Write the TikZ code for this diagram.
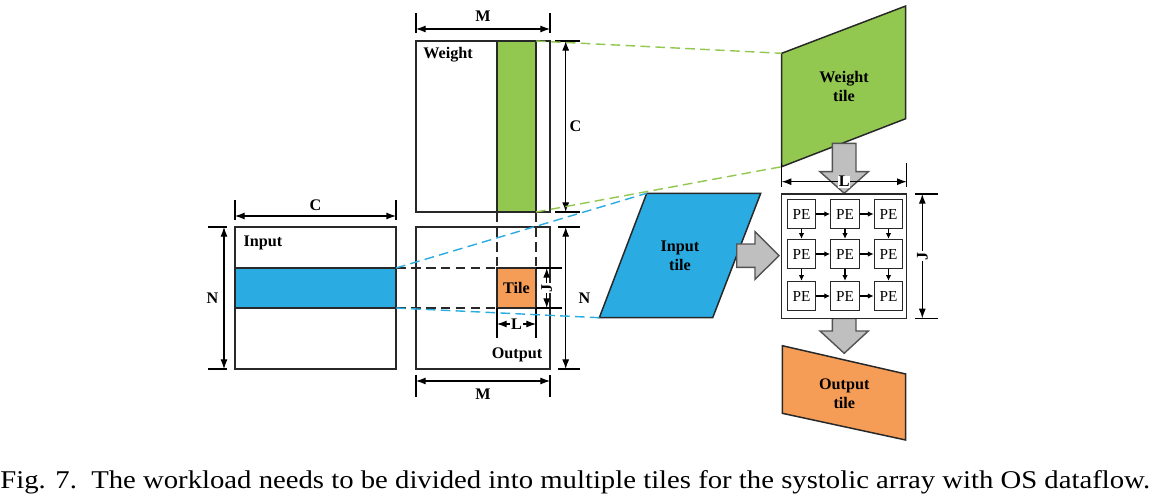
\documentclass[tikz,border=0pt]{standalone}
\usepackage{fontspec}
\setmainfont{Liberation Serif}
\usepackage{graphicx}
\usepackage{tikz}
\usetikzlibrary{calc}
\usetikzlibrary{shapes,arrows,arrows.meta}
\usetikzlibrary{positioning}

\definecolor{wgreen}{RGB}{146,200,80}
\definecolor{iblue}{RGB}{42,172,226}
\definecolor{otile}{RGB}{245,157,86}
\definecolor{bgray}{RGB}{191,191,191}
\definecolor{edge}{RGB}{40,40,40}

\begin{document}
\begin{tikzpicture}[x=0.02cm,y=-0.02cm]
     \tikzstyle{every node}=[font=\bfseries\fontsize{9.2}{10.8}\selectfont,inner sep=1pt]
     \tikzstyle{mat}=[line width=0.85pt,draw=edge]
     \tikzstyle{dim}=[line width=0.6pt,{Latex[length=5.5pt,width=4pt]}-{Latex[length=5.5pt,width=4pt]}]
     \tikzstyle{ext}=[line width=0.6pt]
     \tikzstyle{guide}=[line width=0.8pt,dash pattern=on 5.5pt off 3pt]
     \tikzstyle{bigarrow}=[line width=0.8pt,draw=edge!80,fill=bgray]
     \tikzstyle{pe}=[draw=edge,line width=0.8pt,minimum width=0.57cm,minimum height=0.58cm,inner sep=0pt,font=\fontsize{8.7}{10}\selectfont]
     \tikzstyle{pearrow}=[line width=0.6pt,-{Latex[length=3.3pt,width=3.2pt]}]
     \useasboundingbox (0,0) rectangle (1152,503);
      % matrices
      \coordinate (WTL) at (416,41);
      \coordinate (WBR) at (550,212);
      \coordinate (ITL) at (235,227);
      \coordinate (IBR) at (396,369);
      \coordinate (OTL) at (416,227);
      \coordinate (OBR) at (550,369);
      \draw [mat] (WTL) rectangle (WBR);
      \draw [mat,fill=wgreen] (497,41) rectangle (536,212);
      \draw [mat] (ITL) rectangle (IBR);
      \draw [mat,fill=iblue] (235,268) rectangle (396,308);
      \draw [mat] (OTL) rectangle (OBR);
      \draw [mat,fill=otile] (497,268) rectangle (536,308);
      \node (wlab) at (448,55) {Weight};
      \node (ilab) at (263,243) {Input};
      \node (olab) at (517,355) {Output};
      \node (tlab) at (516.5,288) {Tile};
      % dashed guides in output
      \draw [guide,edge] (396,268) -- (497,268);
      \draw [guide,edge] (396,308) -- (497,308);
      \draw [guide,edge] (497,212) -- (497,268);
      \draw [guide,edge] (536,212) -- (536,268);
      \draw [ext] (536,268) -- (562,268);
      \draw [ext] (536,308) -- (562,308);
      \draw [ext] (497,308) -- (497,338);
      \draw [ext] (536,308) -- (536,338);
      % dimensions
      \draw [ext] (416,13) -- (416,33);
      \draw [ext] (550,13) -- (550,33);
      \draw [dim] (416,29) -- (550,29) node[midway,above=3pt] (m1) {M};
      \draw [ext] (555,41) -- (580,41);
      \draw [ext] (555,212) -- (580,212);
      \draw [dim] (565.7,41) -- (565.7,212) node[midway,right=1pt] (c1) {C};
      \draw [ext] (235,200) -- (235,220);
      \draw [ext] (396,200) -- (396,220);
      \draw [dim] (235,216) -- (396,216) node[midway,above=2pt] (c2) {C};
      \draw [ext] (208,227) -- (227,227);
      \draw [ext] (208,369) -- (227,369);
      \draw [dim] (224,227) -- (224,369) node[midway,left=2pt] (n1) {N};
      \draw [ext] (558,227) -- (580,227);
      \draw [ext] (558,369) -- (580,369);
      \draw [dim] (565.7,227) -- (565.7,369) node[midway,right=6pt] (n2) {N};
      \draw [ext] (416,375) -- (416,397);
      \draw [ext] (550,375) -- (550,397);
      \draw [dim] (416,381) -- (550,381) node[midway,below=3pt] (m2) {M};
      \draw [dim] (546.7,268) -- (546.7,308) node[midway,fill=white,rotate=90,inner sep=0.5pt] (j1) {J};
      \draw [dim] (497,324) -- (536,324) node[midway,fill=white,inner sep=0.5pt] (l1) {L};
      % tiles
      \coordinate (WT1) at (781.7,53.3);
      \coordinate (WT2) at (905.7,6);
      \coordinate (WT3) at (905.7,118.7);
      \coordinate (WT4) at (781.7,166.7);
      \draw [mat,fill=wgreen] (WT1) -- (WT2) -- (WT3) -- (WT4) -- cycle;
      \node [align=center] (wtile) at (844,86) {Weight\\tile};
      \coordinate (IT1) at (646.7,193.3);
      \coordinate (IT2) at (760.7,193.3);
      \coordinate (IT3) at (712.7,317.7);
      \coordinate (IT4) at (599.3,317.7);
      \draw [mat,fill=iblue] (IT1) -- (IT2) -- (IT3) -- (IT4) -- cycle;
      \node [align=center] (itile) at (680,256) {Input\\tile};
      \coordinate (OT1) at (782.3,345.7);
      \coordinate (OT2) at (905.7,374);
      \coordinate (OT3) at (905.7,440);
      \coordinate (OT4) at (782.3,413.3);
      \draw [mat,fill=otile] (OT1) -- (OT2) -- (OT3) -- (OT4) -- cycle;
      \node [align=center] (otilelab) at (844.3,393.4) {Output\\tile};
      % coloured guides
      \draw [guide,wgreen] (536,41) -- (WT1);
      \draw [guide,wgreen] (536,212) -- (WT4);
      \draw [guide,iblue] (396,268) -- (IT1);
      \draw [guide,iblue] (396,308) -- (IT4);
      % block arrows
      \draw [bigarrow] (832.3,143.3) -- (856,143.3) -- (856,171.7) -- (868.3,171.7) -- (844.2,193.3) -- (820,171.7) -- (832.3,171.7) -- cycle;
      \draw [bigarrow] (736.7,244) -- (755,244) -- (755,231.7) -- (779,255.7) -- (755,279.3) -- (755,267.3) -- (736.7,267.3) -- cycle;
      \draw [bigarrow] (832.3,318.3) -- (856,318.3) -- (856,331) -- (868.3,331) -- (844.2,353.3) -- (820,331) -- (832.3,331) -- cycle;
      % PE array
      \coordinate (ATL) at (781.7,194);
      \coordinate (ABR) at (906.7,318.3);
      \draw [mat,fill=white] (ATL) rectangle (ABR);
      \foreach \i/\y in {1/214,2/254,3/296}
        \foreach \j/\x in {1/801.5,2/845,3/888.5}
          \node [pe] (pe\i\j) at (\x,\y) {PE};
      \foreach \i in {1,2,3} {
        \draw [pearrow] (pe\i1) -- (pe\i2);
        \draw [pearrow] (pe\i2) -- (pe\i3);
        \draw [pearrow] (pe1\i) -- (pe2\i);
        \draw [pearrow] (pe2\i) -- (pe3\i);
      }
      \draw [ext] (781.7,163) -- (781.7,187);
      \draw [ext] (906.7,163) -- (906.7,187);
      \draw [dim] (781.7,181.7) -- (906.7,181.7) node[midway,fill=white,inner sep=0.5pt] (l2) {L};
      \draw [ext] (915,194) -- (938,194);
      \draw [ext] (915,318.3) -- (938,318.3);
      \draw [dim] (922.3,194) -- (922.3,318.3) node[midway,fill=white,rotate=90,inner sep=0.5pt] (j2) {J};
      % caption
      \node [anchor=base west,inner sep=0pt,font=\normalfont] (caption) at (0,488)
        {\resizebox{23cm}{0.36cm}{Fig. 7.\ \ The workload needs to be divided into multiple tiles for the systolic array with OS dataflow.}};
\end{tikzpicture}
\end{document}
